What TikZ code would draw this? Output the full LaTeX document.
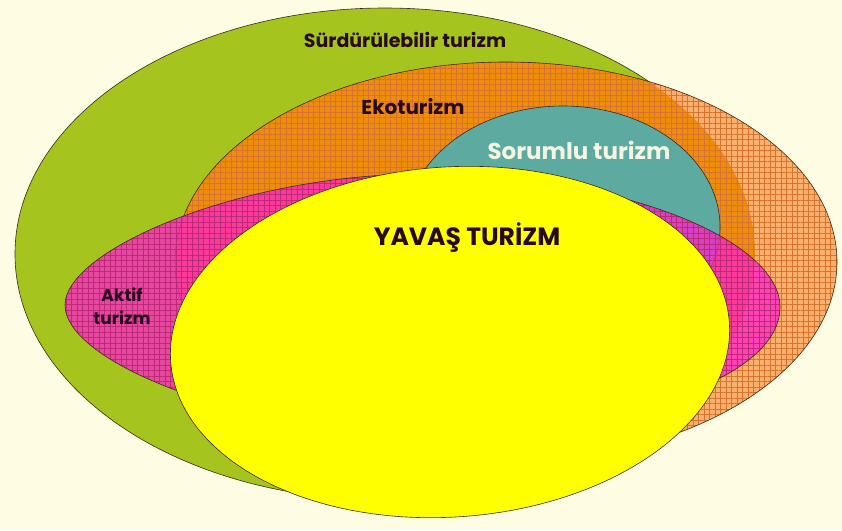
\documentclass[tikz,border=0pt]{standalone}
\usepackage{fontspec}
\setmainfont{Poppins}
\usetikzlibrary{patterns.meta}
\definecolor{bgc}{RGB}{255,252,228}
\definecolor{greenc}{RGB}{166,196,30}
\definecolor{orangedk}{RGB}{238,140,14}
\definecolor{orangelt}{RGB}{252,176,110}
\definecolor{tealc}{RGB}{92,170,160}
\definecolor{pinkc}{RGB}{254,31,203}
\definecolor{yellowc}{RGB}{255,255,0}
\definecolor{linec}{RGB}{60,40,30}
\definecolor{textc}{RGB}{40,10,30}
\definecolor{textlt}{RGB}{245,245,225}
\definecolor{ogrid}{RGB}{215,115,45}
\definecolor{pgrid}{RGB}{190,40,120}
\newcommand\pinkshape{(65,305) .. controls (65,250) and (240,175) .. (420,174) .. controls (620,173) and (780,240) .. (780,307) .. controls (780,380) and (620,432) .. (420,432) .. controls (240,432) and (65,362) .. (65,305) -- cycle}
\tikzset{
  outl/.style={draw=linec, line width=0.6pt},
  gridpat/.style={pattern={Hatch[angle=0,distance=5.5pt,line width=0.25pt]}, pattern color=#1},
  lbl/.style={text=textc, inner sep=0pt, font=\bfseries\fontsize{19}{20}\selectfont},
}
\begin{document}
\begin{tikzpicture}[x=1pt,y=-1pt]
\useasboundingbox (0,0) rectangle (842,530);
\fill[bgc] (0,0) rectangle (842,530);
% green
\fill[greenc] (385,254) ellipse [x radius=370pt, y radius=246pt];
\draw[outl] (385,254) ellipse [x radius=370pt, y radius=246pt];
% orange
\fill[orangelt] (506,262) ellipse [x radius=331pt, y radius=200pt];
\begin{scope}
  \clip (385,254) ellipse [x radius=370pt, y radius=246pt];
  \fill[orangedk] (506,262) ellipse [x radius=331pt, y radius=200pt];
\end{scope}
\path[gridpat=ogrid] (506,262) ellipse [x radius=331pt, y radius=200pt];
\draw[outl] (506,262) ellipse [x radius=331pt, y radius=200pt];
% teal
\fill[tealc] (563,227) ellipse [x radius=157pt, y radius=121pt];
\draw[outl] (563,227) ellipse [x radius=157pt, y radius=121pt];
% pink
\fill[pinkc, fill opacity=0.75] \pinkshape;
\path[gridpat=pgrid] \pinkshape;
\draw[outl] \pinkshape;
% yellow
\fill[yellowc, rotate around={4:(450,342)}] (450,342) ellipse [x radius=280pt, y radius=175pt];
\draw[outl, rotate around={4:(450,342)}] (450,342) ellipse [x radius=280pt, y radius=175pt];
% labels
\node[lbl] (sur) at (405,40) {Sürdürülebilir turizm};
\node[lbl, font=\bfseries\fontsize{20}{20}\selectfont] (eko) at (413,107) {Ekoturizm};
\node[lbl, text=textlt, font=\bfseries\fontsize{23}{24}\selectfont] (sor) at (579,150) {Sorumlu turizm};
\node[lbl, font=\bfseries\fontsize{25}{26}\selectfont] (yav) at (467,238) {YAVAŞ TURİZM};
\node[lbl, align=center, font=\bfseries\fontsize{17}{23}\selectfont] (akt) at (122,306) {Aktif\\turizm};
\end{tikzpicture}
\end{document}
